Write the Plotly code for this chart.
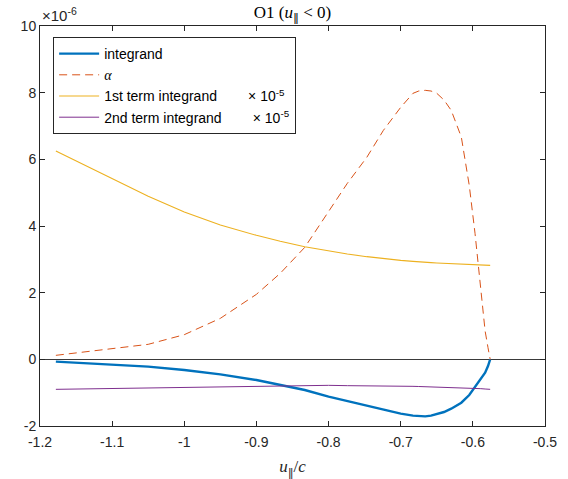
import plotly.graph_objects as go

# Shared abscissa (u_par / c)
u = [-1.178, -1.05, -1.0, -0.95, -0.9, -0.867, -0.833, -0.8, -0.774, -0.747,
     -0.724, -0.7, -0.683, -0.675, -0.666, -0.658, -0.65, -0.64, -0.63, -0.616,
     -0.605, -0.597, -0.589, -0.583, -0.579, -0.576]

integrand = [-0.07, -0.22, -0.32, -0.45, -0.62, -0.76, -0.92, -1.12, -1.25, -1.39,
             -1.52, -1.63, -1.69, -1.71, -1.71, -1.69, -1.65, -1.58, -1.48, -1.3,
             -1.07, -0.82, -0.6, -0.4, -0.2, 0.0]

alpha = [0.12, 0.45, 0.74, 1.23, 1.95, 2.58, 3.36, 4.42, 5.28, 6.06,
         6.87, 7.56, 7.98, 8.05, 8.07, 8.05, 7.98, 7.78, 7.47, 6.67,
         5.22, 3.78, 1.98, 0.85, 0.35, 0.0]

term1 = [6.25, 4.89, 4.42, 4.03, 3.72, 3.54, 3.38, 3.25, 3.16, 3.08,
         3.02, 2.97, 2.94, 2.92, 2.91, 2.90, 2.89, 2.88, 2.87, 2.85,
         2.84, 2.83, 2.83, 2.82, 2.82, 2.82]

term2 = [-0.9, -0.86, -0.83, -0.81, -0.8, -0.79, -0.79, -0.78, -0.79, -0.79,
         -0.8, -0.8, -0.81, -0.815, -0.82, -0.825, -0.83, -0.835, -0.84, -0.85,
         -0.86, -0.87, -0.88, -0.89, -0.9, -0.9]

x_ticks = [-1.2, -1.1, -1.0, -0.9, -0.8, -0.7, -0.6, -0.5]
x_tick_text = ["-1.2", "-1.1", "-1", "-0.9", "-0.8", "-0.7", "-0.6", "-0.5"]
y_ticks = [-2, 0, 2, 4, 6, 8, 10]
y_tick_text = ["-2", "0", "2", "4", "6", "8", "10"]

PAR = "<span style='font-family:DejaVu Serif'>‖</span>"
sp = "&nbsp;" * 8
names = [
    "integrand",
    "<span style='font-family:Liberation Serif'><i>α</i></span>",
    "1st term integrand" + sp + "× 10<sup>-5</sup>",
    "2nd term integrand" + sp + "× 10<sup>-5</sup>",
]

fig = go.Figure()
fig.add_trace(go.Scatter(x=u, y=integrand, mode="lines", name=names[0],
                         line=dict(color="#0072BD", width=2.4)))
fig.add_trace(go.Scatter(x=u, y=alpha, mode="lines", name=names[1],
                         line=dict(color="#D95319", width=1, dash="8px,5px")))
fig.add_trace(go.Scatter(x=u, y=term1, mode="lines", name=names[2],
                         line=dict(color="#EDB120", width=1.1)))
fig.add_trace(go.Scatter(x=u, y=term2, mode="lines", name=names[3],
                         line=dict(color="#7E2F8E", width=1)))

axis_common = dict(
    showline=True, linecolor="#262626", linewidth=1, mirror="ticks",
    ticks="inside", ticklen=5, tickcolor="#262626", tickwidth=1,
    showgrid=False, automargin=False,
    tickfont=dict(family="Liberation Sans, Arial", size=14, color="#262626"),
)

fig.update_xaxes(range=[-1.2, -0.5], tickvals=x_ticks, ticktext=x_tick_text,
                 zeroline=False, ticklabelstandoff=3,
                 title=dict(text="<i>u</i><sub>" + PAR + "</sub>/<i>c</i>",
                            font=dict(family="Liberation Serif, Times New Roman", size=17,
                                      color="#262626")),
                 **axis_common)
fig.update_yaxes(range=[-2, 10], tickvals=y_ticks, ticktext=y_tick_text,
                 zeroline=True, zerolinecolor="#3a3a3a", zerolinewidth=1.3,
                 **axis_common)

fig.update_layout(
    width=568, height=479,
    margin=dict(l=40, r=23, t=26, b=53),
    plot_bgcolor="white", paper_bgcolor="white",
    title=dict(text="O1 (<i>u</i><sub>" + PAR + "</sub> &lt; 0)", x=292.5 / 568,
               xanchor="center", y=0.988, yanchor="top",
               font=dict(family="Liberation Serif, Times New Roman", size=17, color="#000000")),
    legend=dict(x=0.026, y=0.9725, xanchor="left", yanchor="top",
                bgcolor="white", bordercolor="#262626", borderwidth=1,
                font=dict(family="Liberation Sans, Arial", size=14, color="#000000"),
                tracegroupgap=0, itemwidth=40),
    showlegend=True,
    annotations=[dict(text="×10<sup>-6</sup>", xref="paper", yref="paper",
                      x=0.0, y=1.0, xanchor="left", yanchor="bottom", showarrow=False,
                      font=dict(family="Liberation Sans, Arial", size=15, color="#262626"))],
)

fig.write_html("out.html")
